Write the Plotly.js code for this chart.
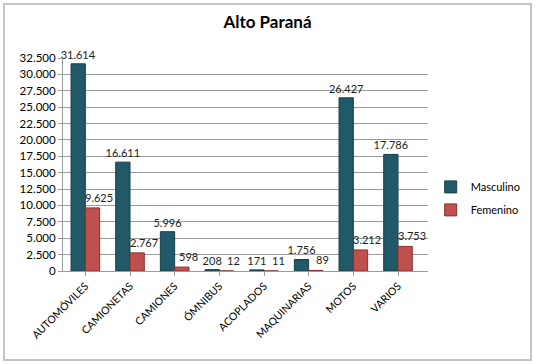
<!DOCTYPE html>
<html><head><meta charset="utf-8">
<script src="https://cdn.plot.ly/plotly-3.0.1.min.js"></script>
<style>
html,body{margin:0;padding:0;background:#fff;}
#wrap{position:relative;width:535px;height:364px;}
#chart{position:absolute;left:0;top:0;width:535px;height:364px;}
#frame{position:absolute;left:3px;top:3px;width:525px;height:354px;border:2px solid #c4c4c4;pointer-events:none;}
</style></head>
<body>
<div id="wrap"><div id="chart"></div><div id="frame"></div></div>
<script>
const categories = ["AUTOMÓVILES","CAMIONETAS","CAMIONES","ÓMNIBUS","ACOPLADOS","MAQUINARIAS","MOTOS","VARIOS"];
const masculino = [31614,16611,5996,208,171,1756,26427,17786];
const femenino = [9625,2767,598,12,11,89,3212,3753];
const seriesNames = ["Masculino","Femenino"];
const yTicks = [0,2500,5000,7500,10000,12500,15000,17500,20000,22500,25000,27500,30000,32500];

const fontFam = 'Lato, "Open Sans", sans-serif';
const fmt = v => v.toLocaleString('de-DE');
const traces = [
  {type:'bar', name:seriesNames[0], legendgroup:'m', x:categories, y:masculino,
   marker:{color:'#215968', line:{color:'#153f4b', width:1}},
   texttemplate:'%{y:,d}', textposition:'outside', cliponaxis:false, constraintext:'none',
   textfont:{family:fontFam, size:11, color:'#222'}},
  {type:'bar', name:seriesNames[1], legendgroup:'f', x:categories, y:femenino,
   marker:{color:'#c0504d', line:{color:'#8c2f2d', width:1}},
   textposition:'none', cliponaxis:false}
];
const annotations = categories.map((c,i)=>({
  x:c, y:femenino[i], xref:'x', yref:'y', text:fmt(femenino[i]), showarrow:false,
  xanchor:'center', yanchor:'bottom', xshift:14, yshift:2,
  font:{family:fontFam, size:11, color:'#222'}
}));
const layout = {
  width:535, height:364,
  separators:',.',
  margin:{l:63, r:107, t:58, b:93, autoexpand:false},
  paper_bgcolor:'#fff', plot_bgcolor:'#fff',
  title:{text:'<b>Alto Paraná</b>', x:0.5, xanchor:'center', y:0.94, yanchor:'middle',
         font:{family:fontFam, size:17, color:'#000'}},
  bargap:0.36, bargroupgap:0,
  annotations:annotations,
  xaxis:{type:'category', tickangle:-45, tickfont:{family:fontFam, size:10.5, color:'#000'},
         showline:true, linecolor:'#9a9a9a', linewidth:1, ticks:'outside', ticklen:4, tickcolor:'#9a9a9a',
         showgrid:false},
  yaxis:{range:[0,32500], tickvals:yTicks, tickformat:',d', showgrid:true, gridcolor:'#9c9c9c', gridwidth:1,
         tickfont:{family:fontFam, size:11.5, color:'#000'}, showline:true, linecolor:'#9a9a9a',
         ticks:'outside', ticklen:4, tickcolor:'#9a9a9a', zeroline:false, mirror:false},
  legend:{xref:'container', yref:'container', x:0.805, xanchor:'left', y:0.455, yanchor:'middle',
          font:{family:fontFam, size:11, color:'#000'},
          itemwidth:30, tracegroupgap:4, traceorder:'grouped'},
  showlegend:true
};
Plotly.newPlot('chart', traces, layout, {displayModeBar:false, staticPlot:true});
</script>
</body></html>
